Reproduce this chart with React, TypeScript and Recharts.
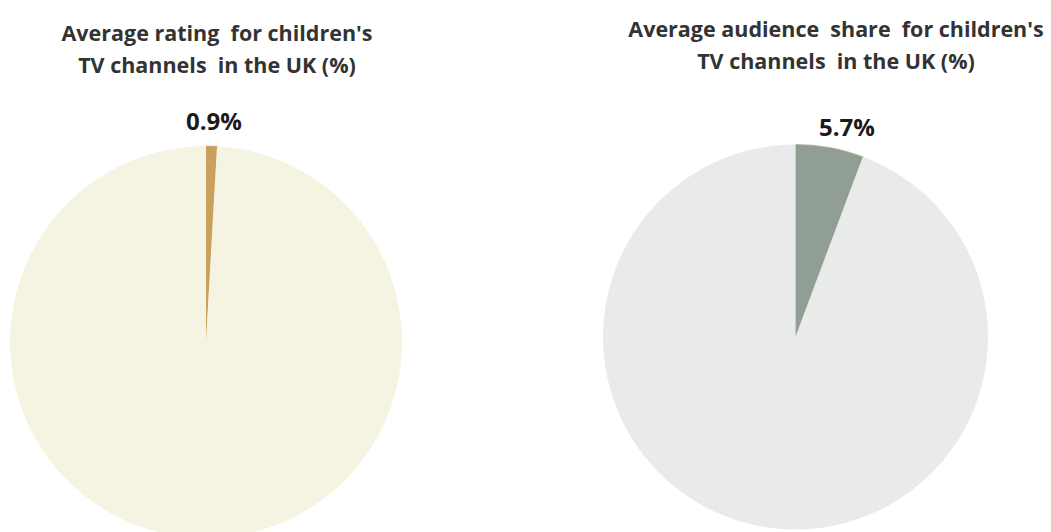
import React from 'react';
import { PieChart, Pie, Cell } from 'recharts';

const leftCategories = ['Children\'s TV channels', 'Other channels'];
const leftValues = [0.9, 99.1];
const rightCategories = ['Children\'s TV channels', 'Other channels'];
const rightValues = [5.7, 94.3];
const leftTitle = ['Average rating  for children\'s', 'TV channels  in the UK (%)'];
const rightTitle = ['Average audience  share  for children\'s', 'TV channels  in the UK (%)'];
const leftLabel = '0.9%';
const rightLabel = '5.7%';

const leftData = leftCategories.map((name, i) => ({ name, value: leftValues[i] }));
const rightData = rightCategories.map((name, i) => ({ name, value: rightValues[i] }));

const leftColors = ['#c9a15d', '#f5f3e1'];
const rightColors = ['#919e95', '#e9ebea'];

const FONT = '"Open Sans", "Noto Sans", sans-serif';

const makeLabel = (text: string, dx: number, dy: number) => (props: any) => {
  if (props.index !== 0) return null;
  const { cx, cy, outerRadius } = props;
  return (
    <text
      x={cx + dx}
      y={cy - outerRadius - dy}
      textAnchor="middle"
      dominantBaseline="central"
      fill="#1a1a1a"
      fontFamily={FONT}
      fontWeight={700}
      fontSize={24}
    >
      {text}
    </text>
  );
};

const titleStyle = (left: number, top: number, width: number): React.CSSProperties => ({
  position: 'absolute',
  left,
  top,
  width,
  textAlign: 'center',
  fontFamily: FONT,
  fontWeight: 700,
  fontSize: 21.5,
  lineHeight: '32px',
  color: '#333333',
  whiteSpace: 'pre',
});

export default function App() {
  return (
    <div style={{ position: 'absolute', left: 0, top: 0, width: 1051, height: 532, overflow: 'hidden', background: '#fff' }}>
      <PieChart width={1051} height={532} margin={{ top: 0, right: 0, bottom: 0, left: 0 }}>
        <Pie
          data={leftData}
          dataKey="value"
          nameKey="name"
          cx={206}
          cy={342}
          outerRadius={196}
          startAngle={90}
          endAngle={-270}
          isAnimationActive={false}
          labelLine={false}
          label={makeLabel(leftLabel, 8, 26)}
        >
          {leftData.map((d, i) => (
            <Cell key={d.name} fill={leftColors[i]} stroke={i === 0 ? '#c9a15d' : 'none'} strokeWidth={i === 0 ? 0.5 : 0} />
          ))}
        </Pie>
        <Pie
          data={rightData}
          dataKey="value"
          nameKey="name"
          cx={795.5}
          cy={337}
          outerRadius={192.5}
          startAngle={90}
          endAngle={-270}
          isAnimationActive={false}
          labelLine={false}
          label={makeLabel(rightLabel, 51.5, 18)}
        >
          {rightData.map((d, i) => (
            <Cell key={d.name} fill={rightColors[i]} stroke={i === 0 ? '#b5ad85' : 'none'} strokeWidth={i === 0 ? 0.8 : 0} />
          ))}
        </Pie>
      </PieChart>
      <div style={titleStyle(-33, 17, 500)}>{leftTitle.join('\n')}</div>
      <div style={titleStyle(586, 13, 500)}>{rightTitle.join('\n')}</div>
    </div>
  );
}
